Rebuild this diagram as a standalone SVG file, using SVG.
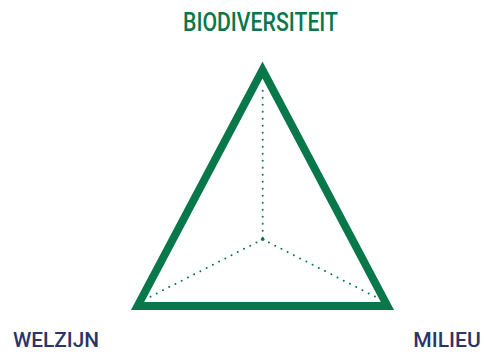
<svg xmlns="http://www.w3.org/2000/svg" width="484" height="357" viewBox="0 0 484 357">
<style>
.lbl{font-family:Roboto,"Liberation Sans",sans-serif;font-weight:500}
.green{fill:#08774a}
.navy{fill:#2c3566}
.dots{stroke:#08774a;stroke-width:2;stroke-linecap:round;stroke-dasharray:0 7;fill:none}
</style>
<rect width="484" height="357" fill="#fff"/>
<g id="triangle">
<polygon points="262.5,70 137.6,306 387.4,306" fill="none" stroke="#08774a" stroke-width="8" stroke-linejoin="miter" stroke-miterlimit="10"/>
</g>
<g id="connectors">
<line class="dots" x1="262.7" y1="90.7" x2="262.7" y2="239.3"/>
<line class="dots" x1="262.7" y1="239.3" x2="147.3" y2="298.3"/>
<line class="dots" x1="262.7" y1="239.3" x2="378.3" y2="298.3"/>
<circle cx="262.7" cy="239.3" r="1.8" fill="#08774a"/>
</g>
<g id="biodiversiteit">
<text class="lbl green" x="183" y="31" font-size="26.7" textLength="155" lengthAdjust="spacingAndGlyphs">BIODIVERSITEIT</text>
</g>
<g id="welzijn">
<text class="lbl navy" x="13" y="347.3" font-size="21" textLength="86" lengthAdjust="spacingAndGlyphs">WELZIJN</text>
</g>
<g id="milieu">
<text class="lbl navy" x="413.3" y="347.3" font-size="21" textLength="67.4" lengthAdjust="spacingAndGlyphs">MILIEU</text>
</g>
</svg>
